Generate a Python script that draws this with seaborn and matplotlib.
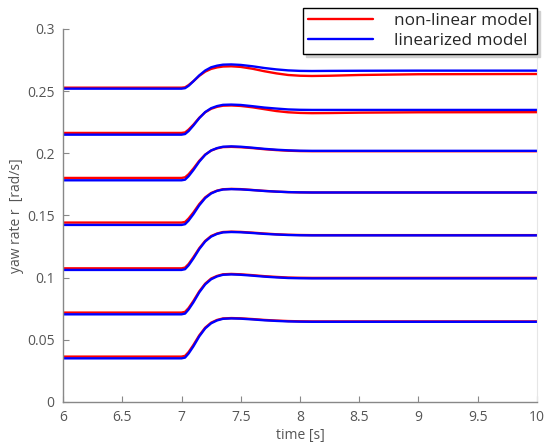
import matplotlib
matplotlib.use('Agg')
import matplotlib.pyplot as plt
import pandas as pd
import seaborn as sns

# time samples [s]
time = [6.0, 7.0, 7.03, 7.06, 7.1, 7.15, 7.2, 7.25, 7.3, 7.35, 7.42,
        7.5, 7.6, 7.7, 7.8, 7.9, 8.0, 8.1, 8.25, 8.5, 9.0, 10.0]

# non-linear model, seven steering cases (top to bottom)
nonlin_1 = [0.2528, 0.2528, 0.2531, 0.2549, 0.2580, 0.2623, 0.2657, 0.2679, 0.2691, 0.2698, 0.2700,
            0.2695, 0.2680, 0.2660, 0.2643, 0.2630, 0.2624, 0.2622, 0.2624, 0.2630, 0.2636, 0.2638]
nonlin_2 = [0.2164, 0.2164, 0.2168, 0.2191, 0.2230, 0.2286, 0.2330, 0.2358, 0.2374, 0.2383, 0.2385,
            0.2381, 0.2370, 0.2355, 0.2340, 0.2330, 0.2325, 0.2323, 0.2324, 0.2327, 0.2330, 0.2331]
nonlin_3 = [0.1802, 0.1802, 0.1807, 0.1832, 0.1877, 0.1940, 0.1990, 0.2022, 0.2040, 0.2050, 0.2052,
            0.2049, 0.2042, 0.2033, 0.2026, 0.2021, 0.2018, 0.2017, 0.2017, 0.2017, 0.2017, 0.2017]
nonlin_4 = [0.1443, 0.1443, 0.1448, 0.1476, 0.1524, 0.1592, 0.1646, 0.1681, 0.1700, 0.1711, 0.1714,
            0.1712, 0.1705, 0.1698, 0.1692, 0.1688, 0.1686, 0.1685, 0.1685, 0.1685, 0.1685, 0.1685]
nonlin_5 = [0.1075, 0.1075, 0.1081, 0.1110, 0.1164, 0.1237, 0.1296, 0.1335, 0.1355, 0.1367, 0.1370,
            0.1368, 0.1362, 0.1355, 0.1349, 0.1345, 0.1343, 0.1342, 0.1342, 0.1342, 0.1342, 0.1342]
nonlin_6 = [0.0719, 0.0719, 0.0725, 0.0756, 0.0812, 0.0890, 0.0952, 0.0993, 0.1014, 0.1027, 0.1030,
            0.1027, 0.1020, 0.1012, 0.1006, 0.1001, 0.0999, 0.0998, 0.0998, 0.0998, 0.0998, 0.0998]
nonlin_7 = [0.0365, 0.0365, 0.0371, 0.0402, 0.0458, 0.0536, 0.0598, 0.0638, 0.0660, 0.0672, 0.0675,
            0.0673, 0.0667, 0.0660, 0.0655, 0.0651, 0.0649, 0.0648, 0.0648, 0.0648, 0.0648, 0.0648]

# linearized model
lin_1 = [0.2520, 0.2520, 0.2524, 0.2543, 0.2579, 0.2627, 0.2666, 0.2692, 0.2705, 0.2713, 0.2715,
         0.2711, 0.2700, 0.2686, 0.2675, 0.2667, 0.2663, 0.2662, 0.2663, 0.2664, 0.2665, 0.2665]
lin_2 = [0.2150, 0.2150, 0.2155, 0.2179, 0.2223, 0.2283, 0.2332, 0.2363, 0.2380, 0.2390, 0.2392,
         0.2389, 0.2379, 0.2368, 0.2360, 0.2353, 0.2350, 0.2349, 0.2349, 0.2349, 0.2349, 0.2349]
lin_3 = [0.1783, 0.1783, 0.1788, 0.1816, 0.1865, 0.1933, 0.1988, 0.2023, 0.2042, 0.2053, 0.2056,
         0.2053, 0.2045, 0.2036, 0.2029, 0.2024, 0.2021, 0.2020, 0.2020, 0.2020, 0.2020, 0.2020]
lin_4 = [0.1424, 0.1424, 0.1430, 0.1459, 0.1510, 0.1582, 0.1640, 0.1677, 0.1698, 0.1709, 0.1712,
         0.1710, 0.1704, 0.1697, 0.1692, 0.1688, 0.1686, 0.1685, 0.1685, 0.1685, 0.1685, 0.1685]
lin_5 = [0.1062, 0.1062, 0.1068, 0.1099, 0.1154, 0.1230, 0.1291, 0.1330, 0.1352, 0.1364, 0.1367,
         0.1365, 0.1359, 0.1352, 0.1347, 0.1343, 0.1341, 0.1340, 0.1340, 0.1340, 0.1340, 0.1340]
lin_6 = [0.0705, 0.0705, 0.0711, 0.0744, 0.0801, 0.0882, 0.0946, 0.0987, 0.1010, 0.1023, 0.1026,
         0.1023, 0.1016, 0.1008, 0.1002, 0.0997, 0.0995, 0.0994, 0.0994, 0.0994, 0.0994, 0.0994]
lin_7 = [0.0351, 0.0351, 0.0357, 0.0390, 0.0447, 0.0528, 0.0592, 0.0633, 0.0656, 0.0669, 0.0672,
         0.0670, 0.0664, 0.0657, 0.0652, 0.0648, 0.0646, 0.0645, 0.0645, 0.0645, 0.0645, 0.0645]

nonlin_cases = [nonlin_1, nonlin_2, nonlin_3, nonlin_4, nonlin_5, nonlin_6, nonlin_7]
lin_cases = [lin_1, lin_2, lin_3, lin_4, lin_5, lin_6, lin_7]

x_ticks = [6, 6.5, 7, 7.5, 8, 8.5, 9, 9.5, 10]
x_labels = ['6', '6.5', '7', '7.5', '8', '8.5', '9', '9.5', '10']
y_ticks = [0, 0.05, 0.1, 0.15, 0.2, 0.25, 0.3]
y_labels = ['0', '0.05', '0.1', '0.15', '0.2', '0.25', '0.3']

rows = []
for model, cases in [('non-linear model', nonlin_cases), ('linearized model', lin_cases)]:
    for i, vals in enumerate(cases):
        for t, v in zip(time, vals):
            rows.append({'time': t, 'yaw': v, 'model': model, 'case': i})
df = pd.DataFrame(rows)

sns.set_style('white')
plt.rcParams['font.family'] = ['Open Sans', 'DejaVu Sans']

fig = plt.figure(figsize=(5.47, 4.48), dpi=100)
ax = fig.add_axes([0.1152, 0.1027, 0.8665, 0.8326])

palette = {'non-linear model': '#ff0000', 'linearized model': '#0000ff'}
sns.lineplot(data=df, x='time', y='yaw', hue='model', units='case', estimator=None,
             palette=palette, linewidth=1.7, ax=ax, legend=False)

ax.set_xlim(6, 10)
ax.set_ylim(0, 0.3)
ax.set_xticks(x_ticks)
ax.set_xticklabels(x_labels)
ax.set_yticks(y_ticks)
ax.set_yticklabels(y_labels)
ax.tick_params(bottom=True, left=True, direction='in', length=4, width=0.8,
               color='#888888', labelcolor='#555555', labelsize=10, pad=6)
ax.set_xlabel('time [s]', color='#555555', fontsize=10, labelpad=2)
ax.set_ylabel('yaw rate r  [rad/s]', color='#555555', fontsize=10, labelpad=2)

for side in ['left', 'bottom']:
    ax.spines[side].set_color('#888888')
    ax.spines[side].set_linewidth(1.0)
ax.spines['right'].set_color('#e6e6e6')
ax.spines['right'].set_linewidth(0.8)
ax.spines['top'].set_visible(False)

handles = [plt.Line2D([], [], color='#ff0000', lw=1.7),
           plt.Line2D([], [], color='#0000ff', lw=1.7)]
leg = fig.legend(handles, ['non-linear model', 'linearized model'],
                 loc='upper right', bbox_to_anchor=(0.9817, 0.982),
                 fontsize=12.3, frameon=True, fancybox=False,
                 shadow={'color': '#d0d0d0', 'alpha': 1.0},
                 handlelength=3.8, handletextpad=1.2, borderpad=0.3,
                 labelspacing=0.2, borderaxespad=0)
leg.get_frame().set_edgecolor('black')
leg.get_frame().set_linewidth(1.0)

fig.savefig('out.png', dpi=100)
